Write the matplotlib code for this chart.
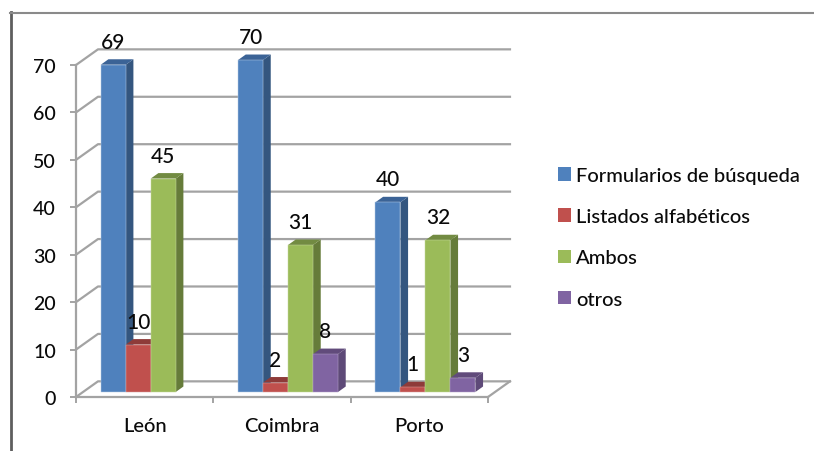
import numpy as np
import matplotlib
matplotlib.use("Agg")
import matplotlib.pyplot as plt
from matplotlib.lines import Line2D
from matplotlib.patches import Patch

plt.rcParams['font.family'] = ['Lato', 'DejaVu Sans']
plt.rcParams['font.weight'] = 'medium'

# datos
cities = ["León", "Coimbra", "Porto"]
series = ["Formularios de búsqueda", "Listados alfabéticos", "Ambos", "otros"]
formularios = [69, 70, 40]
listados = [10, 2, 1]
ambos = [45, 31, 32]
otros = [np.nan, 8, 3]
values = [formularios, listados, ambos, otros]

# colores: frente, lado, arriba, borde
front = ["#4F81BD", "#C0504D", "#9BBB59", "#8064A2"]
side = ["#34567F", "#8C3A38", "#667C3A", "#5E4A78"]
top = ["#3B6396", "#8E3B39", "#728B42", "#614B7B"]
edge = ["#B9CDE6", "#D9A09E", "#C6D89F", "#B3A1C9"]
grid_c = "#A3A3A3"

# geometria del falso 3D, en unidades de los ejes
wall_dx, wall_dy = 0.16, 3.3
bar_dx, bar_dy = 0.056, 1.16
floor = 1.05
start, width = 0.18, 0.182

fig = plt.figure(figsize=(8.14, 4.52), dpi=100)
ax = fig.add_axes([76 / 814, 1 - 398 / 452, 412 / 814, 332 / 452])
ax.set_xlim(0, 3)
ax.set_ylim(0, 70)
ax.patch.set_alpha(0)

# paredes
ticks = np.arange(0, 80, 10)
for t in ticks:
    ax.plot([0, wall_dx, 3 + wall_dx], [t, t + wall_dy, t + wall_dy],
            color=grid_c, lw=1.6, clip_on=False, zorder=1)
ax.plot([3, 3 + wall_dx], [0, wall_dy], color=grid_c, lw=1.6, clip_on=False, zorder=1)

# barras
z = 2
for c in range(len(cities)):
    for s in range(len(series)):
        v = values[s][c]
        if np.isnan(v):
            continue
        x0 = c + start + s * width
        x1 = x0 + width
        y1 = floor + v
        ax.fill([x1, x1 + bar_dx, x1 + bar_dx, x1],
                [floor, floor + bar_dy, y1 + bar_dy, y1],
                color=side[s], lw=0, clip_on=False, zorder=z)
        ax.fill([x0, x0 + bar_dx, x1 + bar_dx, x1],
                [y1, y1 + bar_dy, y1 + bar_dy, y1],
                color=top[s], lw=0, clip_on=False, zorder=z)
        ax.bar(x0, v, width, bottom=floor, align="edge", color=front[s],
               edgecolor=edge[s], linewidth=0.35, clip_on=False, zorder=z + 0.5)
        ax.annotate(f"{v:d}", (x0 + width / 2, y1), xytext=(0, 16.5),
                    textcoords="offset points", ha="center", va="center",
                    fontsize=15, color="#0A0A0A", zorder=20, annotation_clip=False)
        z += 1

# ejes
for name in ["top", "right"]:
    ax.spines[name].set_visible(False)
for name in ["left", "bottom"]:
    ax.spines[name].set_color(grid_c)
    ax.spines[name].set_linewidth(1.6)
    ax.spines[name].set_zorder(1.5)

ax.set_yticks(ticks)
ax.tick_params(axis="y", length=4.5, width=1.4, color=grid_c, pad=10,
               labelsize=14, labelcolor="#0A0A0A")
ax.set_xticks(np.arange(4))
ax.set_xticklabels([])
ax.tick_params(axis="x", which="major", length=4.5, width=1.4, color=grid_c)
ax.set_xticks(np.arange(3) + 0.5, cities, minor=True)
ax.tick_params(axis="x", which="minor", length=0, pad=14.5, labelsize=14.5,
               labelcolor="#0A0A0A")

# leyenda
handles = [Patch(facecolor=f, edgecolor="none") for f in front]
fig.legend(handles, series, loc="upper left", bbox_to_anchor=(540 / 814, 1 - 150 / 452),
           frameon=False, fontsize=14.5, labelcolor="#0A0A0A", handlelength=0.65,
           handleheight=0.65, handletextpad=0.25, labelspacing=1.2)

# marco de la imagen
fig.add_artist(Line2D([11 / 814, 11 / 814], [0, 1 - 13 / 452], color="#5E5E5E", lw=2))
fig.add_artist(Line2D([10 / 814, 1], [1 - 13.5 / 452, 1 - 13.5 / 452], color="#8A8A8A", lw=1.5))

plt.savefig("out.png", dpi=100)
